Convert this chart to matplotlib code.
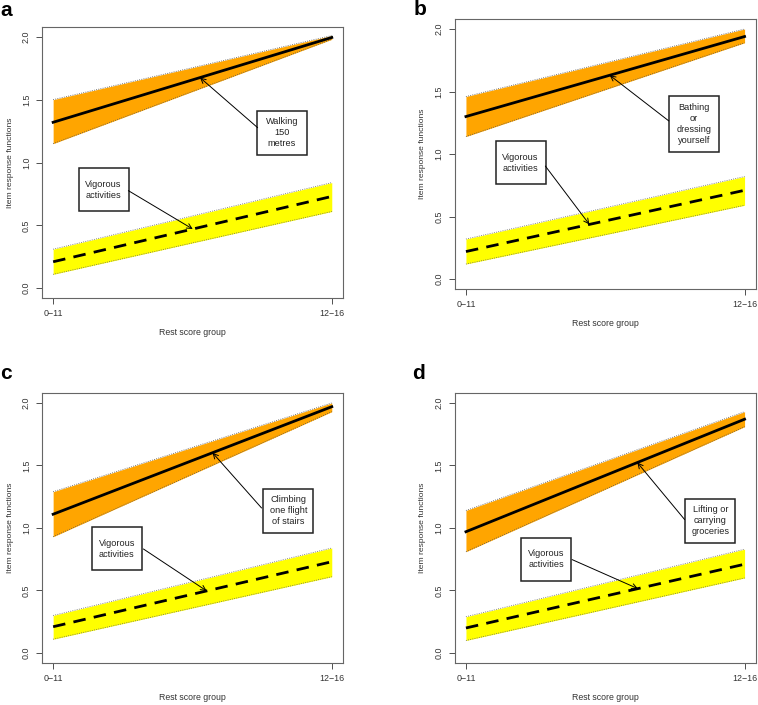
import numpy as np
import matplotlib
matplotlib.use('Agg')
import matplotlib.pyplot as plt
from matplotlib.patches import Rectangle
from matplotlib.transforms import ScaledTranslation

plt.rcParams['font.family'] = ['Liberation Sans', 'DejaVu Sans']

# rest score groups on the x axis
groups = ['0\u221211', '12\u221216']
xpos = np.array([1, 2])

panels = ['a', 'b', 'c', 'd']
item_names = ['Walking\n150\nmetres', 'Bathing\nor\ndressing\nyourself',
              'Climbing\none flight\nof stairs', 'Lifting or\ncarrying\ngroceries']

# item response function (orange band) for each panel's item
item_fit = [[1.32, 1.995], [1.30, 1.94], [1.11, 1.97], [0.97, 1.87]]
item_lo = [[1.15, 1.98], [1.14, 1.89], [0.93, 1.93], [0.81, 1.81]]
item_hi = [[1.50, 2.01], [1.46, 2.00], [1.29, 2.00], [1.14, 1.93]]

# "Vigorous activities" (yellow band), same in every panel more or less
vig_fit = [[0.21, 0.73], [0.22, 0.71], [0.21, 0.73], [0.20, 0.71]]
vig_lo = [[0.11, 0.61], [0.12, 0.59], [0.11, 0.61], [0.10, 0.60]]
vig_hi = [[0.31, 0.84], [0.32, 0.82], [0.30, 0.84], [0.29, 0.83]]

# label boxes: centre, arrow start, arrow head x (head y sits on the line)
item_box = [(1.821, 1.237), (1.818, 1.239), (1.844, 1.139), (1.877, 1.059)]
item_tail = [(1.734, 1.277), (1.728, 1.265), (1.748, 1.160), (1.785, 1.067)]
item_head_x = [1.527, 1.516, 1.572, 1.615]
vig_box = [(1.181, 0.782), (1.196, 0.930), (1.228, 0.832), (1.289, 0.749)]
vig_tail = [(1.270, 0.776), (1.285, 0.904), (1.324, 0.832), (1.381, 0.747)]
vig_head_x = [1.501, 1.443, 1.551, 1.617]

# axes rectangles in figure fraction (left, bottom, width, height)
ax_pos = [(0.0554, 0.577, 0.397, 0.385), (0.600, 0.590, 0.397, 0.383),
          (0.0554, 0.0596, 0.397, 0.383), (0.600, 0.0596, 0.397, 0.383)]
letter_pos = [(0.0, 0.978), (0.546, 0.979), (0.0, 0.463), (0.544, 0.463)]

fig = plt.figure(figsize=(7.58, 7.05), dpi=100)


def label_box(ax, centre, text):
    nl = text.count('\n') + 1
    w = 0.50
    h = max(0.43, nl * 0.12 + 0.08)
    tr = fig.dpi_scale_trans + ScaledTranslation(centre[0], centre[1], ax.transData)
    ax.add_patch(Rectangle((-w / 2, -h / 2), w, h, transform=tr, facecolor='white',
                           edgecolor='#222222', lw=1.1, zorder=5))
    ax.text(centre[0], centre[1], text, ha='center', va='center', fontsize=6.6,
            linespacing=1.3, zorder=6, color='#222222')


def arrow(ax, tail, head):
    ax.annotate('', xy=head, xytext=tail, zorder=7,
                arrowprops=dict(arrowstyle='->', lw=0.7, color='black',
                                shrinkA=0, shrinkB=0, mutation_scale=9))


for i in range(4):
    ax = fig.add_axes(ax_pos[i])
    ax.fill_between(xpos, item_lo[i], item_hi[i], color='#FFA500', lw=0)
    ax.plot(xpos, item_lo[i], ':', color='#555555', lw=0.6)
    ax.plot(xpos, item_hi[i], ':', color='#555555', lw=0.6)
    ax.plot(xpos, item_fit[i], '-', color='black', lw=2.0)

    ax.fill_between(xpos, vig_lo[i], vig_hi[i], color='#FFFF00', lw=0)
    ax.plot(xpos, vig_lo[i], ':', color='#666666', lw=0.6)
    ax.plot(xpos, vig_hi[i], ':', color='#666666', lw=0.6)
    ax.plot(xpos, vig_fit[i], '--', color='black', lw=2.0, dashes=(4.5, 3))

    label_box(ax, item_box[i], item_names[i])
    arrow(ax, item_tail[i], (item_head_x[i], np.interp(item_head_x[i], xpos, item_fit[i])))
    label_box(ax, vig_box[i], 'Vigorous\nactivities')
    arrow(ax, vig_tail[i], (vig_head_x[i], np.interp(vig_head_x[i], xpos, vig_fit[i])))

    ax.set_xlim(0.96, 2.04)
    ax.set_ylim(-0.08, 2.08)
    ax.set_xticks(xpos)
    ax.set_xticklabels(groups)
    ax.set_yticks([0.0, 0.5, 1.0, 1.5, 2.0])
    ax.set_yticklabels(['0.0', '0.5', '1.0', '1.5', '2.0'], rotation=90, va='center')
    ax.tick_params(labelsize=6.4, colors='#333333', length=4, width=0.6, pad=4)
    for s in ax.spines.values():
        s.set_color('#666666')
        s.set_linewidth(0.8)
    ax.set_xlabel('Rest score group', fontsize=6.3, color='#333333', labelpad=7)
    ax.set_ylabel('Item response functions', fontsize=6.1, color='#333333', labelpad=6)

    fig.text(letter_pos[i][0], letter_pos[i][1], panels[i], fontsize=15,
             fontweight='bold', ha='left', va='baseline')

fig.savefig('out.png', dpi=100)
